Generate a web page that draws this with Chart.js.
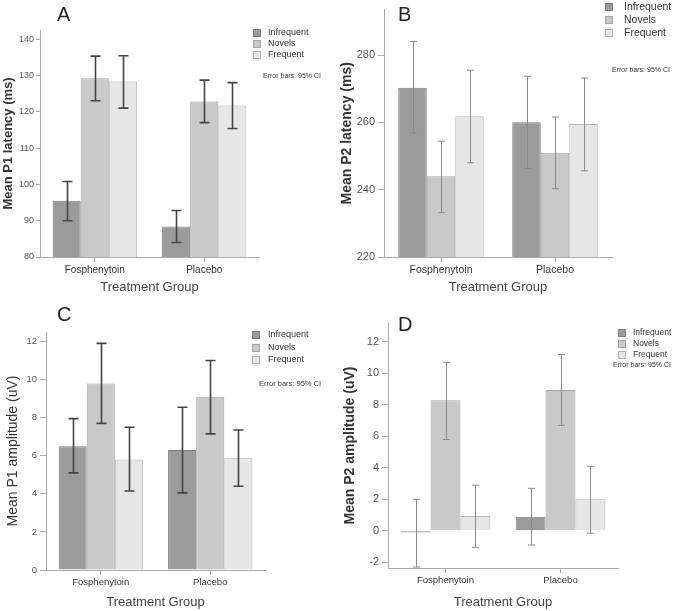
<!DOCTYPE html>
<html>
<head>
<meta charset="utf-8">
<script src="https://cdn.jsdelivr.net/npm/chart.js@4.4.0/dist/chart.umd.min.js"></script>
<style>
  body { margin: 0; background: #fff; }
  #wrap { position: relative; width: 674px; height: 611px; }
  canvas { position: absolute; }
</style>
</head>
<body>
<div id="wrap">
  <canvas id="chartA" width="337" height="300" style="left:0;top:0"></canvas>
  <canvas id="chartB" width="337" height="300" style="left:337px;top:0"></canvas>
  <canvas id="chartC" width="337" height="311" style="left:0;top:300px"></canvas>
  <canvas id="chartD" width="337" height="311" style="left:337px;top:300px"></canvas>
</div>
<script>
// data (means and 95% CI limits), order: Fosphenytoin, Placebo
const groups = ["Fosphenytoin", "Placebo"];
const conditions = ["Infrequent", "Novels", "Frequent"];

// A - P1 latency (ms)
const p1LatMean = [[95.5, 88.4], [129.2, 122.8], [128.3, 121.7]];
const p1LatLow = [[90.0, 84.0], [123.0, 117.0], [121.0, 115.4]];
const p1LatHigh = [[100.8, 92.8], [135.3, 128.7], [135.4, 128.0]];
const p1LatTicks = [80, 90, 100, 110, 120, 130, 140];

// B - P2 latency (ms)
const p2LatMean = [[270.3, 260.0], [244.0, 251.0], [261.8, 259.5]];
const p2LatLow = [[256.8, 246.3], [233.2, 240.3], [248.0, 245.6]];
const p2LatHigh = [[284.0, 273.7], [254.4, 261.6], [275.5, 273.2]];
const p2LatTicks = [220, 240, 260, 280];

// C - P1 amplitude (uV)
const p1AmpMean = [[6.5, 6.3], [9.8, 9.1], [5.8, 5.9]];
const p1AmpLow = [[5.1, 4.05], [7.7, 7.15], [4.15, 4.4]];
const p1AmpHigh = [[7.95, 8.55], [11.9, 11.0], [7.5, 7.35]];
const p1AmpTicks = [0, 2, 4, 6, 8, 10, 12];

// D - P2 amplitude (uV)
const p2AmpMean = [[-0.1, 0.9], [8.3, 8.95], [0.95, 2.0]];
const p2AmpLow = [[-2.3, -0.9], [5.8, 6.7], [-1.05, -0.15]];
const p2AmpHigh = [[2.0, 2.7], [10.7, 11.2], [2.9, 4.1]];
const p2AmpTicks = [-2, 0, 2, 4, 6, 8, 10, 12];

const fills = ["#9b9b9b", "#c9c9c9", "#e6e6e6"];
const edges = ["#7d7d7d", "#a3a3a3", "#b5b5b5"];
const FONT = "'Liberation Sans', Arial, sans-serif";

const errorBarPlugin = {
  id: "errorBars",
  afterDatasetsDraw(chart, args, opts) {
    const ctx = chart.ctx;
    const y = chart.scales.y;
    ctx.save();
    ctx.strokeStyle = opts.color;
    ctx.lineWidth = opts.width;
    chart.data.datasets.forEach((ds, i) => {
      const meta = chart.getDatasetMeta(i);
      meta.data.forEach((bar, j) => {
        const x = Math.round(bar.x) + 0.5;
        const lo = y.getPixelForValue(ds.errLow[j]);
        const hi = y.getPixelForValue(ds.errHigh[j]);
        ctx.beginPath();
        ctx.moveTo(x, lo);
        ctx.lineTo(x, hi);
        ctx.moveTo(x - opts.cap, lo);
        ctx.lineTo(x + opts.cap, lo);
        ctx.moveTo(x - opts.cap, hi);
        ctx.lineTo(x + opts.cap, hi);
        ctx.stroke();
      });
    });
    ctx.restore();
  },
};

const sideLegendPlugin = {
  id: "sideLegend",
  afterDraw(chart, args, o) {
    const ctx = chart.ctx;
    ctx.save();
    ctx.textBaseline = "middle";
    chart.data.datasets.forEach((ds, i) => {
      const ry = o.rows[i];
      ctx.fillStyle = ds.backgroundColor;
      ctx.strokeStyle = ds.borderColor;
      ctx.lineWidth = 1;
      ctx.fillRect(o.x, ry - o.sq / 2, o.sq, o.sq);
      ctx.strokeRect(o.x + 0.5, ry - o.sq / 2 + 0.5, o.sq - 1, o.sq - 1);
      ctx.fillStyle = "#333";
      ctx.font = o.size + "px " + FONT;
      ctx.fillText(ds.label, o.textX, ry);
    });
    ctx.font = o.noteSize + "px " + FONT;
    ctx.fillStyle = "#333";
    ctx.fillText("Error bars: 95% CI", o.noteX, o.noteY);
    // panel letter
    ctx.font = "20px " + FONT;
    ctx.fillStyle = "#222";
    ctx.fillText(o.letter, o.letterX, o.letterY);
    ctx.restore();
  },
};

function makePanel(id, p) {
  const canvas = document.getElementById(id);
  const datasets = conditions.map((c, i) => ({
    label: c,
    data: p.mean[i],
    errLow: p.low[i],
    errHigh: p.high[i],
    backgroundColor: fills[i],
    borderColor: edges[i],
    borderWidth: 1,
    barPercentage: 1,
    categoryPercentage: p.catPct,
  }));
  return new Chart(canvas.getContext("2d"), {
    type: "bar",
    data: { labels: groups, datasets: datasets },
    plugins: [errorBarPlugin, sideLegendPlugin],
    options: {
      responsive: false,
      animation: false,
      layout: { padding: { top: p.area.top, right: canvas.width - p.area.right, left: 0, bottom: 0 } },
      plugins: {
        legend: { display: false },
        tooltip: { enabled: false },
        errorBars: p.err,
        sideLegend: p.legend,
      },
      scales: {
        x: {
          grid: { display: true, drawOnChartArea: false, drawTicks: true, tickLength: 5, offset: false, color: "#aaa" },
          border: { color: "#aaa" },
          ticks: { color: "#333", font: { family: FONT, size: p.catSize }, padding: 2 },
          title: { display: true, text: "Treatment Group", color: "#444", font: { family: FONT, size: 13 }, padding: { top: 0, bottom: p.xTitlePad } },
          afterFit: (s) => { s.height = canvas.height - p.area.bottom; },
        },
        y: {
          min: p.min,
          max: p.max,
          afterBuildTicks: (s) => { s.ticks = p.ticks.map((v) => ({ value: v })); },
          grid: { display: true, drawOnChartArea: false, drawTicks: true, tickLength: p.tickLen, color: "#aaa" },
          border: { color: "#aaa" },
          ticks: { color: "#555", font: { family: FONT, size: p.tickSize }, padding: p.tickPad },
          title: { display: true, text: p.yTitle, color: "#333", font: { family: FONT, size: p.yTitleSize, weight: p.yTitleWeight }, padding: { top: p.yTitlePad, bottom: 0 } },
          afterFit: (s) => { s.width = p.area.left; },
        },
      },
    },
  });
}

makePanel("chartA", {
  mean: p1LatMean, low: p1LatLow, high: p1LatHigh, ticks: p1LatTicks,
  min: 80, max: 142.5, catPct: 0.77,
  area: { left: 40, right: 259, top: 30, bottom: 257 },
  yTitle: "Mean P1 latency (ms)", yTitleSize: 13, yTitleWeight: "bold", yTitlePad: 1,
  tickSize: 9, tickLen: 4, tickPad: 2, catSize: 10, xTitlePad: 5,
  err: { color: "#444", width: 1.6, cap: 5 },
  legend: { x: 253, rows: [33, 44, 55], sq: 8, textX: 268, size: 9, noteX: 263, noteY: 76, noteSize: 7, letter: "A", letterX: 57, letterY: 15 },
});

makePanel("chartB", {
  mean: p2LatMean, low: p2LatLow, high: p2LatHigh, ticks: p2LatTicks,
  min: 220, max: 293.5, catPct: 0.75,
  area: { left: 47, right: 275, top: 7, bottom: 257 },
  yTitle: "Mean P2 latency (ms)", yTitleSize: 14, yTitleWeight: "bold", yTitlePad: 2,
  tickSize: 11, tickLen: 6, tickPad: 3, catSize: 10.5, xTitlePad: 5,
  err: { color: "#8a8a8a", width: 1, cap: 3.5 },
  legend: { x: 268, rows: [7, 20, 33], sq: 8, textX: 287, size: 10.5, noteX: 275, noteY: 70, noteSize: 7, letter: "B", letterX: 61, letterY: 15 },
});

makePanel("chartC", {
  mean: p1AmpMean, low: p1AmpLow, high: p1AmpHigh, ticks: p1AmpTicks,
  min: 0, max: 12.5, catPct: 0.77,
  area: { left: 46, right: 265, top: 32, bottom: 270 },
  yTitle: "Mean P1 amplitude (uV)", yTitleSize: 14, yTitleWeight: "normal", yTitlePad: 5,
  tickSize: 9.5, tickLen: 6, tickPad: 3, catSize: 9.5, xTitlePad: 1,
  err: { color: "#444", width: 1.6, cap: 5 },
  legend: { x: 252, rows: [35, 48, 60], sq: 8, textX: 268, size: 9, noteX: 259, noteY: 84, noteSize: 7.5, letter: "C", letterX: 57, letterY: 15 },
});

makePanel("chartD", {
  mean: p2AmpMean, low: p2AmpLow, high: p2AmpHigh, ticks: p2AmpTicks,
  min: -2.36, max: 13.2, catPct: 0.78,
  area: { left: 51, right: 281, top: 23, bottom: 268 },
  yTitle: "Mean P2 amplitude (uV)", yTitleSize: 14, yTitleWeight: "bold", yTitlePad: 5,
  tickSize: 11, tickLen: 6, tickPad: 3, catSize: 9.5, xTitlePad: 1,
  err: { color: "#8a8a8a", width: 1, cap: 3.5 },
  legend: { x: 281, rows: [33, 44, 55], sq: 8, textX: 296, size: 8.5, noteX: 276, noteY: 65, noteSize: 7, letter: "D", letterX: 61, letterY: 25 },
});
</script>
</body>
</html>
